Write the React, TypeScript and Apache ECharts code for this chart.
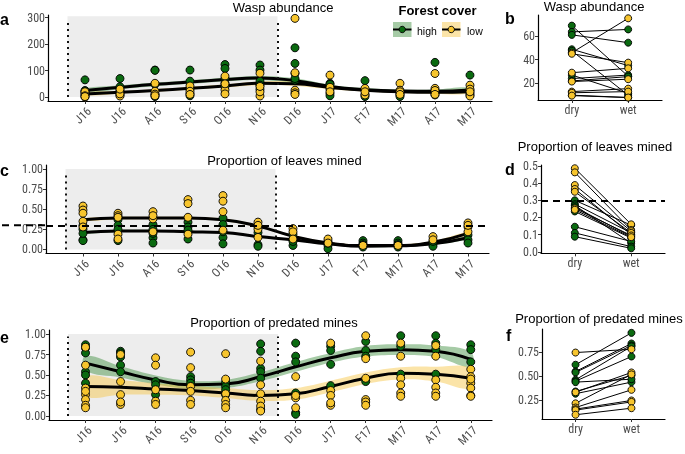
import React, { useEffect, useRef } from 'react';
import * as echarts from 'echarts';

// ---------- categories & ticks ----------
const months = ['J16', 'J16', 'A16', 'S16', 'O16', 'N16', 'D16', 'J17', 'F17', 'M17', 'A17', 'M17'];
const monthIdx = months.map((_, i) => i);
const seasons = ['dry', 'wet'];
const waspTicks = [0, 100, 200, 300];
const waspPairTicks = [20, 40, 60];
const propTicks = [0, 0.25, 0.5, 0.75, 1];
const minedPairTicks = [0, 0.1, 0.2, 0.3, 0.4, 0.5];
const predPairTicks = [0.25, 0.5, 0.75];

// ---------- panel a: wasp abundance per month ----------
const waspHigh = [
  [65, 25, 20, 15, 10], [70, 39, 26, 16, 8], [102, 101, 48, 10, 2], [102, 60, 30, 14, 5],
  [123, 108, 70, 52, 40], [121, 102, 60, 30, 45], [186, 127, 89, 64, 70], [52, 48, 14, 5, 30],
  [62, 10, 2], [8, 2, 14], [131, 8, 20], [83, 15, 8, 25],
];
const waspLow = [
  [20, 5, 0, 2], [4, 12, 30], [52, 22, 11, 5], [42, 22, 10], [79, 27, 12, 50], [90, 4, 20, 40],
  [297, 92, 26, 16, 10], [83, 37, 20], [33, 8, 20], [52, 26, 20, 10], [89, 33, 16, 25, 10], [45, 30, 4, 20],
];
const waspFitHigh = [25, 37, 48, 57, 66, 72, 62, 40, 28, 23, 22, 27];
const waspSeHigh = [8, 7, 7, 7, 7, 8, 9, 7, 6, 6, 7, 9];
const waspFitLow = [12, 18, 25, 33, 42, 52, 50, 36, 26, 20, 18, 20];
const waspSeLow = [6, 5, 5, 5, 6, 7, 8, 6, 5, 5, 6, 7];

// ---------- panel b: wasp abundance dry vs wet ----------
const waspDry = [68.8, 63.5, 61, 48.8, 47.5, 45.9, 45, 29, 27, 24, 22, 21.5, 13, 12, 10, 9.6];
const waspWet = [26, 65.6, 54.4, 35, 10, 75, 37.5, 32.7, 11.5, 27, 25.7, 23.5, 15.5, 13, 8, 8];
const waspCover = ['high', 'high', 'high', 'high', 'high', 'low', 'low', 'low', 'high', 'high', 'high', 'low', 'low', 'low', 'high', 'low'];

// ---------- panel c: proportion of leaves mined ----------
const minedHigh = [
  [0.30, 0.25, 0.12, 0.11, 0.2], [0.37, 0.30, 0.25, 0.11], [0.31, 0.25, 0.145, 0.08, 0.2], [0.34, 0.28, 0.24, 0.13],
  [0.39, 0.31, 0.15, 0.07, 0.22], [0.28, 0.21, 0.06, 0.04], [0.19, 0.12, 0.05, 0.1], [0.1, 0.05, 0.01, 0.08],
  [0.11, 0.08, 0.03, 0.06], [0.11, 0.08, 0.03, 0.06], [0.07, 0.04, 0.10], [0.18, 0.12, 0.08],
];
const minedLow = [
  [0.54, 0.49, 0.45, 0.35, 0.28], [0.45, 0.42, 0.19, 0.13, 0.40], [0.47, 0.38, 0.22, 0.42], [0.62, 0.57, 0.40, 0.19],
  [0.67, 0.60, 0.47, 0.24], [0.34, 0.25, 0.15, 0.3], [0.26, 0.22, 0.13], [0.13, 0.08],
  [0.05], [0.05], [0.16, 0.12], [0.33, 0.28, 0.22, 0.3],
];
const minedFitHigh = [0.21, 0.23, 0.23, 0.22, 0.21, 0.16, 0.12, 0.07, 0.04, 0.045, 0.07, 0.145];
const minedSeHigh = [0.015, 0.012, 0.012, 0.012, 0.012, 0.012, 0.012, 0.01, 0.01, 0.01, 0.012, 0.018];
const minedFitLow = [0.37, 0.39, 0.39, 0.39, 0.37, 0.29, 0.165, 0.08, 0.05, 0.05, 0.09, 0.20];
const minedSeLow = [0.018, 0.015, 0.015, 0.015, 0.015, 0.015, 0.014, 0.012, 0.012, 0.012, 0.014, 0.02];
const minedThreshold = 0.3;

// ---------- panel d: leaves mined dry vs wet ----------
const minedDry = [0.487, 0.463, 0.389, 0.366, 0.35, 0.30, 0.278, 0.27, 0.26, 0.253, 0.245, 0.235, 0.146, 0.11, 0.088];
const minedWet = [0.16, 0.127, 0.12, 0.10, 0.11, 0.155, 0.11, 0.05, 0.09, 0.095, 0.085, 0.08, 0.06, 0.03, 0.02];
const minedCover = ['low', 'low', 'low', 'low', 'low', 'high', 'high', 'high', 'high', 'low', 'low', 'high', 'high', 'high', 'high'];

// ---------- panel e: proportion of predated mines ----------
const predHigh = [
  [0.87, 0.83, 0.77, 0.54, 0.50, 0.40], [0.79, 0.77, 0.72, 0.62, 0.54], [0.42, 0.38, 0.26], [0.48, 0.44, 0.40],
  [0.41, 0.36, 0.32, 0.26], [0.88, 0.79, 0.58, 0.54, 0.46, 0.08], [0.89, 0.73, 0.66, 0.28, 0.04, 0.02], [0.85, 0.80, 0.63, 0.37],
  [0.91, 0.80, 0.73, 0.42], [0.98, 0.85, 0.51], [0.98, 0.89, 0.81, 0.51], [0.87, 0.81, 0.66],
];
const predLow = [
  [0.84, 0.62, 0.34, 0.26, 0.20, 0.13, 0.10, 0.30], [0.75, 0.42, 0.26, 0.14, 0.17], [0.71, 0.62, 0.32, 0.18, 0.14],
  [0.78, 0.59, 0.36, 0.30, 0.19, 0.14], [0.76, 0.45, 0.27, 0.19, 0.14, 0.10], [0.67, 0.38, 0.27, 0.18, 0.12, 0.06],
  [0.48, 0.22, 0.10, 0.25], [0.89, 0.31, 0.25, 0.13, 0.16], [0.98, 0.70, 0.46, 0.20, 0.17, 0.13],
  [0.89, 0.73, 0.46, 0.38, 0.28, 0.24], [0.86, 0.73, 0.44, 0.35, 0.28, 0.24], [0.57, 0.48, 0.40, 0.34, 0.25, 0.24, 0.45],
];
const predFitHigh = [0.645, 0.54, 0.44, 0.38, 0.39, 0.48, 0.60, 0.71, 0.79, 0.81, 0.79, 0.69];
const predSeHigh = [0.09, 0.07, 0.055, 0.05, 0.05, 0.055, 0.06, 0.06, 0.065, 0.065, 0.07, 0.09];
const predFitLow = [0.36, 0.35, 0.33, 0.31, 0.28, 0.25, 0.27, 0.36, 0.46, 0.52, 0.51, 0.46];
const predSeLow = [0.12, 0.09, 0.07, 0.06, 0.06, 0.065, 0.07, 0.07, 0.07, 0.075, 0.09, 0.12];

// ---------- panel f: predated mines dry vs wet ----------
const predDry = [0.746, 0.62, 0.55, 0.54, 0.464, 0.45, 0.343, 0.335, 0.32, 0.44, 0.22, 0.177, 0.16, 0.15, 0.102];
const predWet = [0.78, 0.95, 0.84, 0.82, 0.81, 0.705, 0.51, 0.54, 0.44, 0.47, 0.52, 0.36, 0.25, 0.235, 0.17];
const predCover = ['low', 'high', 'high', 'high', 'high', 'high', 'high', 'low', 'high', 'high', 'low', 'low', 'low', 'low', 'low'];

// ---------- styles ----------
const GREEN = '#0a6a10';
const YELLOW = '#f7c52e';
const RIB_GREEN = 'rgba(58,140,58,0.45)';
const RIB_YELLOW = 'rgba(246,196,62,0.45)';
const NARROW = "'Liberation Sans Narrow', 'Arial Narrow', 'Roboto Condensed', 'DejaVu Sans Condensed', sans-serif";
const SANS = "'Liberation Sans', Arial, Helvetica, sans-serif";

const grids = [
  { left: 48, top: 15, width: 444, height: 86 },
  { left: 538, top: 15, width: 124, height: 85 },
  { left: 46, top: 165, width: 443, height: 88.5 },
  { left: 541, top: 165, width: 124, height: 88.3 },
  { left: 49, top: 330, width: 443, height: 90 },
  { left: 542, top: 329, width: 123, height: 90 },
];
const xRanges = [[-1.057, 11.629], [-0.6, 1.6], [-1.057, 11.6], [-0.6, 1.6], [-1.043, 11.606], [-0.6, 1.6]];
const yRanges = [[-14.75, 309.75], [5.9, 77.8], [-0.05, 1.05], [-0.009, 0.506], [-0.05, 1.05], [0.058, 0.99]];
const yTicks = [waspTicks, waspPairTicks, propTicks, minedPairTicks, propTicks, predPairTicks];
const yFmt = [
  (v: number) => String(Math.round(v)),
  (v: number) => String(Math.round(v)),
  (v: number) => v.toFixed(2),
  (v: number) => v.toFixed(1),
  (v: number) => v.toFixed(2),
  (v: number) => v.toFixed(2),
];

const pts = (groups: number[][]) => groups.flatMap((g, i) => g.map((v) => [i, v]));

function ribbon(gi: number, fit: number[], se: number[], color: string) {
  return {
    type: 'custom',
    coordinateSystem: 'cartesian2d',
    xAxisIndex: gi,
    yAxisIndex: gi,
    data: [[0, fit[0]]],
    silent: true,
    z: 2,
    renderItem: (_p: any, api: any) => {
      const up = fit.map((v, i) => api.coord([i, v + se[i]]));
      const lo = fit.map((v, i) => api.coord([i, v - se[i]])).reverse();
      return { type: 'polygon', shape: { points: [...up, ...lo], smooth: 0.4 }, style: { fill: color } };
    },
  };
}

function fitLine(gi: number, fit: number[]) {
  return {
    type: 'line', xAxisIndex: gi, yAxisIndex: gi, data: fit.map((v, i) => [i, v]), smooth: 0.5,
    symbol: 'none', silent: true, z: 3, lineStyle: { color: '#000', width: 3 },
  };
}

function scatter(gi: number, data: number[][], color: string, size: number) {
  return {
    type: 'scatter', xAxisIndex: gi, yAxisIndex: gi, data, symbolSize: size, silent: true, z: 4,
    itemStyle: { color, borderColor: '#000', borderWidth: 0.9, opacity: 1 },
  };
}

function timePanel(gi: number, high: number[][], low: number[][], fH: number[], sH: number[], fL: number[], sL: number[], shadeTop: number, dotTop: number) {
  return [
    {
      type: 'scatter', xAxisIndex: gi, yAxisIndex: gi, data: [], silent: true, z: 1,
      markArea: { silent: true, itemStyle: { color: '#ededed' }, data: [[{ coord: [-0.5, 0] }, { coord: [5.5, shadeTop] }]] },
      markLine: {
        silent: true, symbol: ['none', 'none'], label: { show: false },
        lineStyle: { color: '#111', type: [2, 4], width: 2 },
        data: [[{ coord: [-0.5, 0] }, { coord: [-0.5, dotTop] }], [{ coord: [5.5, 0] }, { coord: [5.5, dotTop] }]],
      },
    },
    ribbon(gi, fH, sH, RIB_GREEN),
    ribbon(gi, fL, sL, RIB_YELLOW),
    fitLine(gi, fH),
    fitLine(gi, fL),
    scatter(gi, pts(high), GREEN, 8),
    scatter(gi, pts(low), YELLOW, 8),
  ];
}

function pairPanel(gi: number, dry: number[], wet: number[], cover: string[]) {
  const sel = (c: string) => {
    const out: number[][] = [];
    dry.forEach((d, i) => { if (cover[i] === c) { out.push([0, d]); out.push([1, wet[i]]); } });
    return out;
  };
  return [
    {
      type: 'lines', coordinateSystem: 'cartesian2d', xAxisIndex: gi, yAxisIndex: gi, silent: true, z: 3,
      lineStyle: { color: '#000', width: 1, opacity: 1 },
      data: dry.map((d, i) => ({ coords: [[0, d], [1, wet[i]]] })),
    },
    scatter(gi, sel('high'), GREEN, 7),
    scatter(gi, sel('low'), YELLOW, 7),
  ];
}

const isTime = (gi: number) => gi % 2 === 0;

const xAxes = grids.map((_, gi) => ({
  type: 'value', gridIndex: gi, min: xRanges[gi][0], max: xRanges[gi][1],
  axisLine: { show: true, onZero: false, lineStyle: { color: '#000', width: 1.2 } },
  axisTick: { show: true, customValues: isTime(gi) ? monthIdx : [0, 1], length: 3, lineStyle: { color: '#333' } },
  axisLabel: isTime(gi)
    ? {
        customValues: monthIdx,
        formatter: (v: number) => months[Math.round(v)],
        rotate: 45, fontSize: 12, color: '#4d4d4d', fontFamily: NARROW, margin: 4, verticalAlign: 'top',
      }
    : {
        customValues: [0, 1],
        formatter: (v: number) => seasons[Math.round(v)],
        fontSize: 12, color: '#4d4d4d', fontFamily: NARROW, margin: 4,
      },
  splitLine: { show: false },
}));

const yAxes = grids.map((_, gi) => ({
  type: 'value', gridIndex: gi, min: yRanges[gi][0], max: yRanges[gi][1],
  axisLine: { show: true, onZero: false, lineStyle: { color: '#000', width: 1.2 } },
  axisTick: { show: true, customValues: yTicks[gi], length: 3, lineStyle: { color: '#333' } },
  axisLabel: { customValues: yTicks[gi], formatter: yFmt[gi], fontSize: 12, color: '#4d4d4d', fontFamily: NARROW, margin: 3 },
  splitLine: { show: false },
}));

const series: any[] = [
  ...timePanel(0, waspHigh, waspLow, waspFitHigh, waspSeHigh, waspFitLow, waspSeLow, 305, 295),
  ...pairPanel(1, waspDry, waspWet, waspCover),
  ...timePanel(2, minedHigh, minedLow, minedFitHigh, minedSeHigh, minedFitLow, minedSeLow, 1.0, 0.97),
  ...pairPanel(3, minedDry, minedWet, minedCover),
  ...timePanel(4, predHigh, predLow, predFitHigh, predSeHigh, predFitLow, predSeLow, 1.0, 0.97),
  ...pairPanel(5, predDry, predWet, predCover),
];
// threshold lines
series.push({
  type: 'scatter', xAxisIndex: 2, yAxisIndex: 2, data: [], silent: true, z: 5,
  markLine: { silent: true, symbol: ['none', 'none'], label: { show: false }, lineStyle: { color: '#000', type: [7, 5], width: 2 }, data: [{ yAxis: minedThreshold }] },
});
series.push({
  type: 'scatter', xAxisIndex: 3, yAxisIndex: 3, data: [], silent: true, z: 5,
  markLine: { silent: true, symbol: ['none', 'none'], label: { show: false }, lineStyle: { color: '#000', type: [7, 5], width: 2 }, data: [{ yAxis: minedThreshold }] },
});

const option: any = {
  animation: false,
  grid: grids.map((g) => ({ ...g, containLabel: false, outerBoundsMode: 'none' })),
  xAxis: xAxes,
  yAxis: yAxes,
  series,
};

const txt = (text: string, x: number, y: number, size: number, weight: string, align: string) => ({
  type: 'text', x, y, silent: true, z: 10,
  style: {
    text, fill: '#000', fontSize: size, fontWeight: weight, fontFamily: SANS,
    textAlign: align, textVerticalAlign: 'middle', align, verticalAlign: 'middle',
  },
});

function legendKey(x: number, fill: string, dot: string) {
  return [
    { type: 'rect', silent: true, z: 10, shape: { x, y: 22, width: 18.5, height: 15 }, style: { fill } },
    { type: 'line', silent: true, z: 11, shape: { x1: x, y1: 29.5, x2: x + 18.5, y2: 29.5 }, style: { stroke: '#000', lineWidth: 2 } },
    { type: 'circle', silent: true, z: 12, shape: { cx: x + 9.25, cy: 29.5, r: 3.2 }, style: { fill: dot, stroke: '#000', lineWidth: 0.9 } },
  ];
}

export default function App() {
  const ref = useRef<HTMLDivElement>(null);
  useEffect(() => {
    const chart = echarts.init(ref.current!, null, { renderer: 'svg' });
    chart.setOption(option);
    const yPx = chart.convertToPixel({ yAxisIndex: 2 } as any, minedThreshold) as unknown as number;
    const graphic: any[] = [
      txt('Wasp abundance', 283, 7, 13, 'normal', 'center'),
      txt('Wasp abundance', 594, 6, 13, 'normal', 'center'),
      txt('Proportion of leaves mined', 284.5, 160, 13, 'normal', 'center'),
      txt('Proportion of leaves mined', 595, 146.5, 13, 'normal', 'center'),
      txt('Proportion of predated mines', 274, 322, 13, 'normal', 'center'),
      txt('Proportion of predated mines', 599, 318, 13, 'normal', 'center'),
      txt('a', 0, 19, 16, 'bold', 'left'),
      txt('b', 505, 18, 16, 'bold', 'left'),
      txt('c', 0, 170, 16, 'bold', 'left'),
      txt('d', 505, 169, 16, 'bold', 'left'),
      txt('e', 0, 337, 16, 'bold', 'left'),
      txt('f', 506, 335, 16, 'bold', 'left'),
      txt('Forest cover', 437.5, 10, 13, 'bold', 'center'),
      ...legendKey(393, RIB_GREEN, GREEN),
      txt('high', 417, 30.5, 10.5, 'normal', 'left'),
      ...legendKey(442, RIB_YELLOW, YELLOW),
      txt('low', 467, 30.5, 10.5, 'normal', 'left'),
    ];
    if (typeof yPx === 'number' && isFinite(yPx)) {
      graphic.push({
        type: 'line', silent: true, z: 9,
        shape: { x1: 2, y1: yPx, x2: grids[2].left, y2: yPx },
        style: { stroke: '#000', lineWidth: 2, lineDash: [7, 5] },
      });
    }
    chart.setOption({ graphic });
    return () => chart.dispose();
  }, []);
  return <div ref={ref} style={{ position: 'fixed', left: 0, top: 0, width: 685, height: 454 }} />;
}
